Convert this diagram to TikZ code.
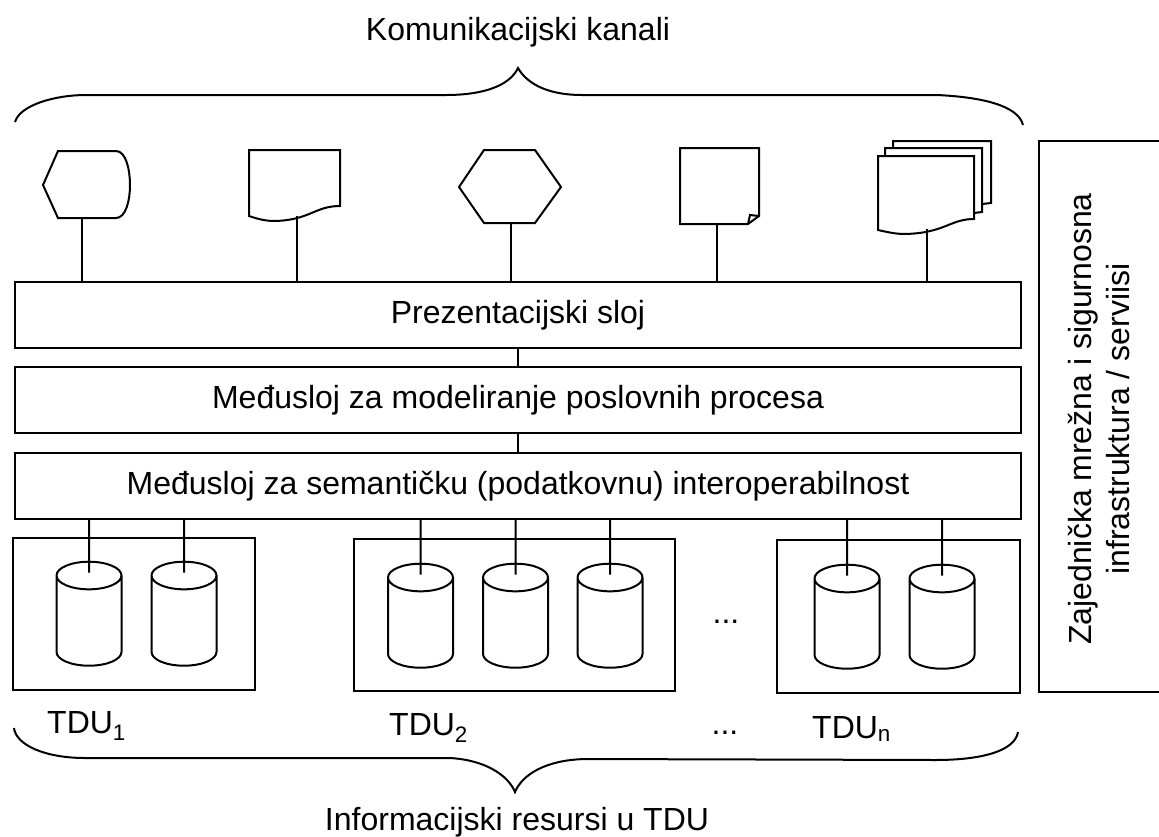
\documentclass[tikz,border=0pt]{standalone}
\usepackage{fontspec}
\setmainfont{Liberation Sans}
\usetikzlibrary{arrows,%
                shapes,positioning}

\tikzset{
  layerbox/.style={draw,line width=2pt,minimum width=1006pt,align=center,inner sep=0pt,font=\fontsize{32}{38}\selectfont},
  tdubox/.style={draw,line width=2pt,inner sep=0pt},
  dbcyl/.style={draw,line width=2pt,cylinder,shape border rotate=90,shape aspect=4.6,
                minimum width=65pt,minimum height=104pt,inner sep=3pt},
  icon/.style={line width=2pt},
  link/.style={line width=2pt},
  curly/.style={line width=2pt},
  lbl/.style={inner sep=0pt,font=\fontsize{32}{38}\selectfont}
}

\begin{document}
\begin{tikzpicture}[x=1pt,y=-1pt]
\useasboundingbox (0,0) rectangle (1159,836);

\node[lbl] (topcap) at (518,32) {Komunikacijski kanali};
\node[lbl] (botcap) at (517,822) {Informacijski resursi u TDU};

% braces
\draw[curly] (15,122) .. controls (20,105) and (55,95) .. (86,95) -- (446,95)
  .. controls (485,95) and (510,85) .. (518,68)
  .. controls (526,82) and (545,95) .. (582,95) -- (937,95)
  .. controls (980,97) and (1018,105) .. (1023,125);
\draw[curly] (14,728) .. controls (16,745) and (45,758) .. (85,758) -- (450,758)
  .. controls (485,760) and (508,775) .. (515,792)
  .. controls (522,775) and (545,760) .. (585,759) -- (935,760)
  .. controls (985,760) and (1015,750) .. (1018,732);

% layers
\node[layerbox,minimum height=66pt] (present) at (518,315) {Prezentacijski sloj};
\node[layerbox,minimum height=66pt] (process) at (518,400) {Međusloj za modeliranje poslovnih procesa};
\node[layerbox,minimum height=66pt] (semantic) at (518,486) {Međusloj za semantičku (podatkovnu) interoperabilnost};
\draw[link] (present) -- (process);
\draw[link] (process) -- (semantic);

% channel icons
\draw[icon] (58,151) -- (116,151) .. controls (126,151) and (130,170) .. (130,185)
  .. controls (130,200) and (126,218) .. (116,218) -- (58,218) -- (43,185) -- cycle;
\coordinate (ch1) at (82,218);
\draw[icon] (249,150) -- (340,150) -- (340,206) .. controls (315,206) and (310,220) .. (275,221)
  .. controls (265,221) and (258,219) .. (249,216) -- cycle;
\coordinate (ch2) at (297,216);
\draw[icon] (459,187) -- (484,150) -- (535,150) -- (561,187) -- (535,223) -- (484,223) -- cycle;
\coordinate (ch3) at (511,223);
\draw[icon] (680,148) -- (759,148) -- (759,216) -- (748,224) -- (680,224) -- cycle;
\draw[line width=2pt] (759,216) -- (750,215) -- (748,224);
\coordinate (ch4) at (717,224);
\draw[icon] (893,148) -- (893,141) -- (991,141) -- (991,203) -- (982,204);
\draw[icon] (885,156) -- (885,148) -- (982,148) -- (982,212) -- (974,213);
\draw[icon] (878,156) -- (974,156) -- (974,219) .. controls (950,219) and (945,233) .. (905,234)
  .. controls (895,234) and (887,232) .. (878,230) -- cycle;
\coordinate (ch5) at (927,229);

\foreach \c in {ch1,ch2,ch3,ch4,ch5}
  \draw[link] (\c) -- (\c |- present.north);

% TDU
\node[tdubox,minimum width=242pt,minimum height=152pt] (tdu1) at (134,614) {};
\node[tdubox,minimum width=321pt,minimum height=152pt] (tdu2) at (514.5,615) {};
\node[tdubox,minimum width=243pt,minimum height=153pt] (tdu3) at (898.5,616.5) {};

\node[dbcyl] (db11) at (89,624) {};
\node[dbcyl] (db12) at (184,624) {};
\node[dbcyl] (db21) at (420.5,626) {};
\node[dbcyl] (db22) at (515.5,626) {};
\node[dbcyl] (db23) at (610,626) {};
\node[dbcyl] (db31) at (847,627) {};
\node[dbcyl] (db32) at (942,627) {};

\foreach \d in {db11,db12,db21,db22,db23,db31,db32}
  \draw[link] (semantic.south -| \d) -- ([yshift=-12pt]\d.north);

\node[lbl,anchor=west] (lab1) at (47,726) {TDU\textsubscript{1}};
\node[lbl,anchor=west] (lab2) at (389,728) {TDU\textsubscript{2}};
\node[lbl,anchor=west] (lab3) at (812,729) {TDU\textsubscript{n}};
\node[lbl] (dots1) at (726,622) {...};
\node[lbl] (dots2) at (725,733) {...};

% shared services
\node[tdubox,minimum width=126pt,minimum height=551pt] (shared) at (1102,416.5) {};
\node[lbl,rotate=90,align=center] (sharedtxt) at (1099,419) {Zajednička mrežna i sigurnosna\\infrastruktura / serviisi};
\end{tikzpicture}
\end{document}
